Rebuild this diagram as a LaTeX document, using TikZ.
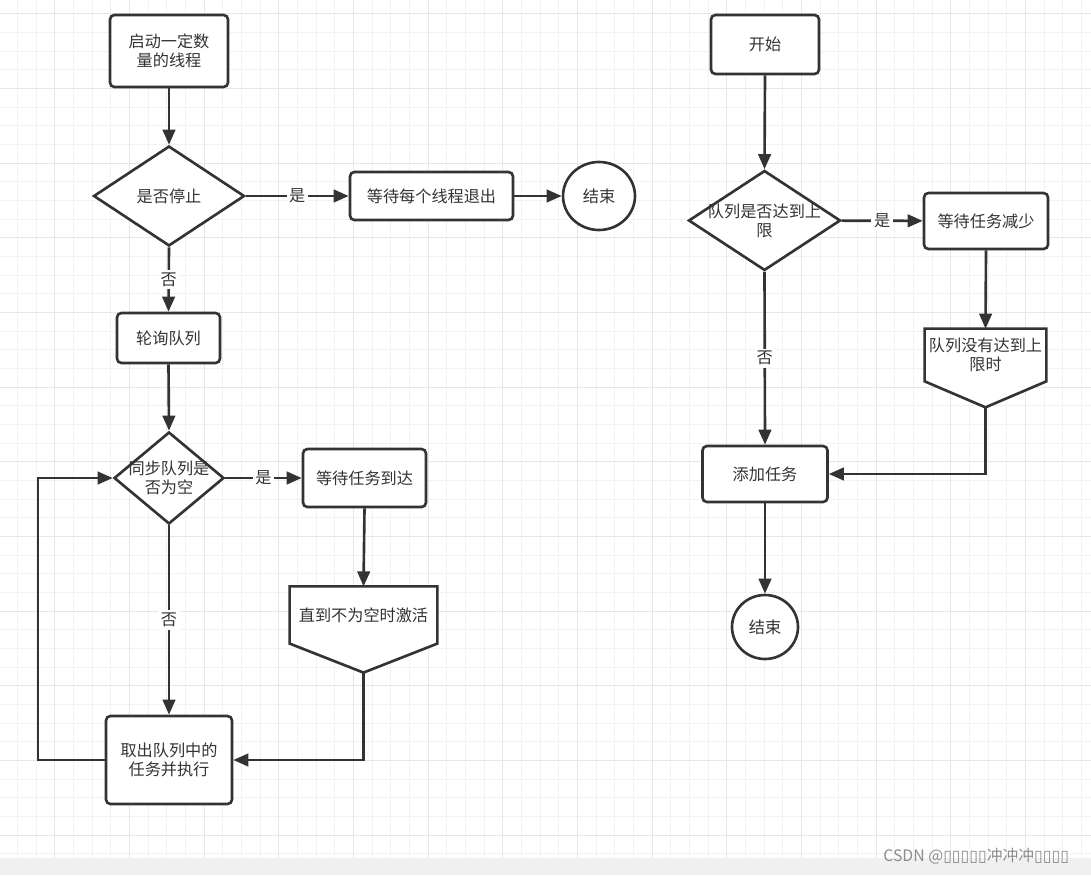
\documentclass[tikz,border=0pt]{standalone}
\usepackage{fontspec}
\setmainfont{Noto Sans CJK SC}
\newfontfamily\tofufont{DejaVu Sans}
\usepackage{tikz}
\usetikzlibrary{positioning, shapes.geometric, arrows.meta, calc, backgrounds}
\definecolor{linegray}{HTML}{333333}
\definecolor{textgray}{HTML}{333333}
\definecolor{gridlight}{HTML}{F2F2F2}
\definecolor{gridbold}{HTML}{E6E6E6}
\definecolor{bandgray}{HTML}{F0F0F0}
\definecolor{markgray}{HTML}{8C8C8C}

\begin{document}
\begin{tikzpicture}[
    x=0.02cm, y=-0.02cm,
    every node/.style={font=\fontsize{9.2pt}{10.8pt}\selectfont, text=textgray, align=center},
    proc/.style    ={draw=linegray, fill=white, line width=1.5pt, rounded corners=2.5pt, inner sep=0pt},
    decision/.style={draw=linegray, fill=white, line width=1.5pt, diamond, inner sep=0pt},
    terminal/.style={draw=linegray, fill=white, line width=1.5pt, ellipse, inner sep=0pt},
    offpage/.style ={inner sep=0pt},
    outline/.style ={draw=linegray, fill=white, line width=1.5pt, line join=miter},
    dtext/.style   ={inner sep=0pt},
    yesno/.style   ={fill=white, inner sep=1.5pt},
    arrow/.style   ={-{Triangle[length=0.3cm, width=0.25cm]}, line width=1.5pt, draw=linegray},
    minorline/.style={draw=gridlight, line width=0.55pt},
    majorline/.style={draw=gridbold, line width=0.55pt}
]
\useasboundingbox (0,0) rectangle (1091,875);

% Background grid and bottom band
\begin{scope}[on background layer]
  \fill[white] (0,0) rectangle (1091,858);
  \foreach \i in {0,...,57} \draw[minorline] ({17.33+18.667*\i},0) -- ({17.33+18.667*\i},858);
  \foreach \j in {0,...,45} \draw[minorline] (0,{13.67+18.667*\j}) -- (1091,{13.67+18.667*\j});
  \foreach \i in {0,...,13} \draw[majorline] ({54.67+74.667*\i},0) -- ({54.67+74.667*\i},858);
  \foreach \j in {0,...,11} \draw[majorline] (0,{13.67+74.667*\j}) -- (1091,{13.67+74.667*\j});
  \fill[bandgray] (0,858) rectangle (1091,875);
\end{scope}

% Left flow: worker threads
\node[proc, minimum width=2.36cm, minimum height=1.44cm] (spawn) at (169,51) {启动一定数\\量的线程};
\node[decision, minimum width=3.02cm, minimum height=2cm, label={[dtext]center:是否停止}] (stop) at (169,196) {};
\node[proc, minimum width=3.26cm, minimum height=0.96cm] (joinall) at (431.5,196) {等待每个线程退出};
\node[terminal, minimum width=1.44cm, minimum height=1.36cm] (endL) at (599,196) {结束};
\node[proc, minimum width=2.06cm, minimum height=1cm] (poll) at (168.5,338) {轮询队列};
\node[decision, minimum width=2.2cm, minimum height=1.84cm, label={[dtext]center:{同步队列是\\否为空}}] (empty) at (169,478) {};
\node[proc, minimum width=2.46cm, minimum height=1.16cm] (waittask) at (364.5,478) {等待任务到达};
\node[offpage, minimum width=2.94cm, minimum height=1.13cm] (wake) at (363.5,615) {直到不为空时激活};
\coordinate (wake tip) at ($(wake.south)+(0,29)$);
\node[proc, minimum width=2.52cm, minimum height=1.76cm] (take) at (169,760) {取出队列中的\\任务并执行};
\coordinate (loop) at (38,478);

% Right flow: producer
\node[proc, minimum width=2.16cm, minimum height=1.18cm] (begin) at (765,44.5) {开始};
\node[decision, minimum width=3.04cm, minimum height=2cm, label={[dtext]center:{队列是否达到上\\限}}] (full) at (764.5,220.5) {};
\node[proc, minimum width=2.48cm, minimum height=1.12cm] (waitless) at (986,221) {等待任务减少};
\node[offpage, minimum width=2.42cm, minimum height=1.04cm] (notfull) at (985.5,355) {队列没有达到上\\限时};
\coordinate (notfull tip) at ($(notfull.south)+(0,26)$);
\node[proc, minimum width=2.5cm, minimum height=1.12cm] (add) at (765,474) {添加任务};
\node[terminal, minimum width=1.32cm, minimum height=1.28cm] (endR) at (765,627) {结束};

% Off-page outlines (under the text)
\begin{scope}[on background layer]
  \draw[outline] (wake.north west) -- (wake.north east) -- (wake.south east) -- (wake tip) -- (wake.south west) -- cycle;
  \draw[outline] (notfull.north west) -- (notfull.north east) -- (notfull.south east) -- (notfull tip) -- (notfull.south west) -- cycle;
\end{scope}

% Arrows
\draw[arrow] (spawn.south) -- (stop.north);
\draw[arrow] (stop) -- node[yesno] {是} (joinall);
\draw[arrow] (joinall) -- (endL);
\draw[arrow] (stop.south) -- node[yesno] {否} (poll.north);
\draw[arrow] (poll.south) -- (empty.north);
\draw[arrow] (empty) -- node[yesno] {是} (waittask);
\draw[arrow] (waittask.south) -- (wake.north);
\draw[arrow] (wake tip) |- (take.east);
\draw[arrow] (empty.south) -- node[yesno] {否} (take.north);
\draw[arrow] (take.west) -| (loop) -- (empty.west);

\draw[arrow] (begin.south) -- (full.north);
\draw[arrow] (full) -- node[yesno] {是} (waitless);
\draw[arrow] (waitless.south) -- (notfull.north);
\draw[arrow] (notfull tip) |- (add.east);
\draw[arrow] (full.south) -- node[yesno] {否} (add.north);
\draw[arrow] (add) -- (endR);

% Watermark
\node[anchor=west, font=\fontsize{9pt}{10pt}\selectfont, text=markgray, inner sep=0pt] (wm) at (883,856) {CSDN @{\tofufont ▯▯▯▯▯}冲冲冲{\tofufont ▯▯▯▯}};

\end{tikzpicture}
\end{document}
